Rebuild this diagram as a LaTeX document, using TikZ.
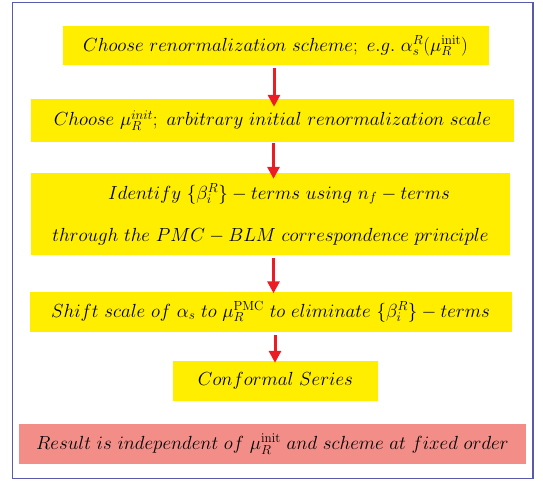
\documentclass[tikz,border=0pt]{standalone}
\usepackage{graphicx}
\usetikzlibrary{arrows.meta}
\definecolor{boxyellow}{RGB}{255,238,0}
\definecolor{boxred}{RGB}{242,142,135}
\definecolor{arrred}{RGB}{236,28,36}
\definecolor{framecol}{RGB}{90,90,170}
\newcommand{\boxtxt}[1]{\scalebox{0.915}{#1}}
\begin{document}
\begin{tikzpicture}[x=1pt,y=-1pt,
  box/.style={fill=boxyellow, draw=none, inner sep=0pt, anchor=center,
    font=\fontsize{20.74}{42}\selectfont, align=center},
  resbox/.style={box, fill=boxred},
  arr/.style={draw=arrred, line width=3pt, -{Triangle[length=12pt,width=12pt]}}]
\useasboundingbox (0,0) rectangle (543,483);
\draw[framecol, line width=1.2pt] (12.7,2.7) rectangle (533,478.5);
\node[box, minimum width=426pt, minimum height=39pt] (b1) at (275.5,45.5)
  {\boxtxt{$Choose\ renormalization\ scheme;\ e.g.\ \alpha_s^R(\mu_R^{\rm init})$}};
\node[box, minimum width=483pt, minimum height=43pt] (b2) at (272.5,120.5)
  {\boxtxt{$Choose\ \mu_R^{init};\ arbitrary\ initial\ renormalization\ scale$}};
\node[box, minimum width=479pt, minimum height=82pt] (b3) at (270.5,214)
  {\hspace*{17pt}\boxtxt{$Identify\ \{\beta_i^R\}-terms\ using\ n_f-terms$}\\
   \boxtxt{$through\ the\ PMC-BLM\ correspondence\ principle$}};
\node[box, minimum width=482pt, minimum height=40pt] (b4) at (270.5,311.5)
  {\boxtxt{$Shift\ scale\ of\ \alpha_s\ to\ \mu_R^{\rm PMC}\ to\ eliminate\ \{\beta_i^R\}-terms$}};
\node[box, minimum width=205pt, minimum height=40pt] (b5) at (275.5,381)
  {\boxtxt{$Conformal\ Series$}};
\node[resbox, minimum width=507pt, minimum height=40pt] (b6) at (272.5,444)
  {\boxtxt{$Result\ is\ independent\ of\ \mu_R^{\rm init}\ and\ scheme\ at\ fixed\ order$}};
\draw[arr, shorten <=3pt, shorten >=-8pt] (b1.south -| 274,0) -- (b2.north -| 274,0);
\draw[arr, shorten <=1pt, shorten >=-6pt] (b2.south -| 273.5,0) -- (b3.north -| 273.5,0);
\draw[arr, shorten <=3pt, shorten >=-2pt] (b3.south -| 273.5,0) -- (b4.north -| 273.5,0);
\draw[arr, shorten <=3pt, shorten >=-2pt] (b4.south -| 275,0) -- (b5.north -| 275,0);
\end{tikzpicture}
\end{document}
